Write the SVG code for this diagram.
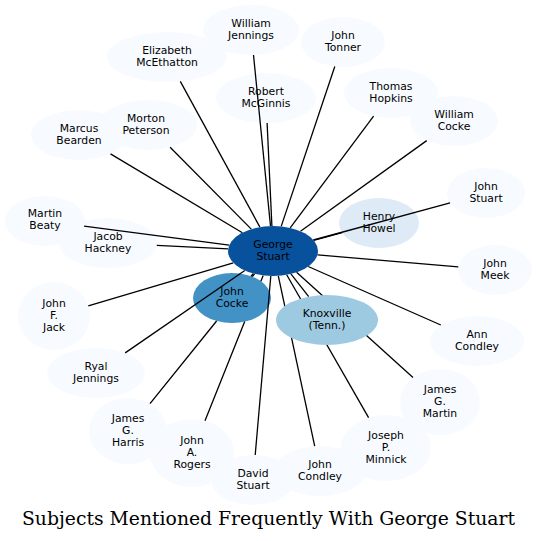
<svg xmlns="http://www.w3.org/2000/svg" width="537" height="541" viewBox="0 0 537 541">
<style>
.n{fill:#f7fbff;stroke:none}
text{font-family:"DejaVu Sans","Liberation Sans",sans-serif;font-size:10.8px;fill:#000;text-anchor:middle}
.t{font-family:"DejaVu Serif","Liberation Serif",serif;font-size:18.8px}
.e path{fill:none;stroke:#000;stroke-width:1.3}
</style>
<rect width="537" height="541" fill="#fff"/>
<g id="n_william_jennings"><ellipse class="n" cx="251" cy="30" rx="48" ry="25"/><text x="251" y="27">William</text><text x="251" y="39">Jennings</text></g>
<g id="n_elizabeth_mcethatton"><ellipse class="n" cx="167" cy="57" rx="60" ry="25"/><text x="167" y="54">Elizabeth</text><text x="167" y="66">McEthatton</text></g>
<g id="n_robert_mcginnis"><ellipse class="n" cx="266" cy="98" rx="50" ry="25"/><text x="266" y="95">Robert</text><text x="266" y="107">McGinnis</text></g>
<g id="n_john_tonner"><ellipse class="n" cx="343" cy="42" rx="42" ry="25"/><text x="343" y="39">John</text><text x="343" y="51">Tonner</text></g>
<g id="n_thomas_hopkins"><ellipse class="n" cx="391" cy="93" rx="47" ry="25"/><text x="391" y="90">Thomas</text><text x="391" y="102">Hopkins</text></g>
<g id="n_william_cocke"><ellipse class="n" cx="454" cy="121" rx="44" ry="25"/><text x="454" y="118">William</text><text x="454" y="130">Cocke</text></g>
<g id="n_marcus_bearden"><ellipse class="n" cx="79" cy="135" rx="48" ry="25"/><text x="79" y="132">Marcus</text><text x="79" y="144">Bearden</text></g>
<g id="n_morton_peterson"><ellipse class="n" cx="148" cy="125" rx="49" ry="25"/><text x="146" y="122">Morton</text><text x="146" y="134">Peterson</text></g>
<g id="n_martin_beaty"><ellipse class="n" cx="45" cy="221" rx="40" ry="25"/><text x="45" y="217">Martin</text><text x="45" y="229">Beaty</text></g>
<g id="n_jacob_hackney"><ellipse class="n" cx="108" cy="243" rx="49" ry="25"/><text x="108" y="240">Jacob</text><text x="108" y="252">Hackney</text></g>
<g id="n_john_stuart"><ellipse class="n" cx="486" cy="193" rx="39" ry="25"/><text x="486" y="190">John</text><text x="486" y="202">Stuart</text></g>
<g id="n_henry_howel"><ellipse cx="379" cy="223" rx="40" ry="25" fill="#deebf7"/><text x="379" y="220">Henry</text><text x="379" y="232">Howel</text></g>
<g id="n_john_meek"><ellipse class="n" cx="495" cy="270" rx="37" ry="25"/><text x="495" y="267">John</text><text x="495" y="279">Meek</text></g>
<g id="n_ann_condley"><ellipse class="n" cx="477" cy="341" rx="47" ry="25"/><text x="477" y="338">Ann</text><text x="477" y="350">Condley</text></g>
<g id="n_james_g_martin"><ellipse class="n" cx="440" cy="402" rx="40" ry="33"/><text x="440" y="393">James</text><text x="440" y="405">G.</text><text x="440" y="417">Martin</text></g>
<g id="n_john_condley"><ellipse class="n" cx="320" cy="471" rx="46" ry="25"/><text x="320" y="468">John</text><text x="320" y="480">Condley</text></g>
<g id="n_joseph_p_minnick"><ellipse class="n" cx="386" cy="448" rx="45" ry="33"/><text x="386" y="439">Joseph</text><text x="386" y="451">P.</text><text x="386" y="463">Minnick</text></g>
<g id="n_james_g_harris"><ellipse class="n" cx="128" cy="431" rx="39" ry="33"/><text x="128" y="422">James</text><text x="128" y="434">G.</text><text x="128" y="446">Harris</text></g>
<g id="n_john_a_rogers"><ellipse class="n" cx="192" cy="453" rx="42" ry="34"/><text x="192" y="444">John</text><text x="192" y="456">A.</text><text x="192" y="468">Rogers</text></g>
<g id="n_david_stuart"><ellipse class="n" cx="253" cy="480" rx="42" ry="25"/><text x="253" y="477">David</text><text x="253" y="489">Stuart</text></g>
<g id="n_ryal_jennings"><ellipse class="n" cx="96" cy="373" rx="49" ry="25"/><text x="96" y="370">Ryal</text><text x="96" y="382">Jennings</text></g>
<g id="n_john_f_jack"><ellipse class="n" cx="54" cy="316" rx="36" ry="34"/><text x="54" y="307">John</text><text x="54" y="319">F.</text><text x="54" y="331">Jack</text></g>
<g id="n_john_cocke"><ellipse cx="232" cy="298" rx="39" ry="25" fill="#4292c6"/><text x="232" y="295">John</text><text x="232" y="307">Cocke</text></g>
<g id="edges" class="e">
<path d="M270.5,226 L253.5,55"/>
<path d="M259.9,227.1 L180.3,81.4"/>
<path d="M271.9,226 L267.1,123"/>
<path d="M251.3,229.1 L170.1,147.3"/>
<path d="M242.4,232.7 L110.5,153.9"/>
<path d="M229.2,245.2 L84.1,226.2"/>
<path d="M228.2,248.8 L156.8,245.4"/>
<path d="M281.2,226.4 L334.8,66.5"/>
<path d="M290.2,227.9 L373.6,116.2"/>
<path d="M300.5,231.2 L426.7,140.6"/>
<path d="M313.4,240 L450.1,202.8"/>
<path d="M317.5,254.8 L458.3,266.9"/>
<path d="M308.2,266.5 L440.8,325"/>
<path d="M296.6,272.3 L413,377.6"/>
<path d="M286.7,274.8 L368.6,417.6"/>
<path d="M278.3,275.8 L314.7,446.2"/>
<path d="M290.9,273.9 L308.7,296.7"/>
<path d="M270.8,276 L255.2,455"/>
<path d="M263.2,275.4 L260.9,281.2 M244.7,321.6 L205,420.7"/>
<path d="M254.6,273.8 L252.3,276.7 M216.6,321 L150,403.7"/>
<path d="M244.8,270.5 L125.2,352.9"/>
<path d="M233.3,262.8 L88.3,305.8"/>
<path d="M253.4,273.5 L251,276.2"/>
<path d="M313.6,240.3 L342.1,232.7"/>
</g>
<g id="n_knoxville"><ellipse cx="327" cy="320" rx="51" ry="25" fill="#9ecae1"/><text x="327" y="317">Knoxville</text><text x="327" y="329">(Tenn.)</text></g>
<g id="n_george_stuart"><ellipse cx="273" cy="251" rx="45" ry="25" fill="#08519c"/><text x="273" y="248">George</text><text x="273" y="260">Stuart</text></g>
<text class="t" x="268.5" y="525">Subjects Mentioned Frequently With George Stuart</text>
</svg>
